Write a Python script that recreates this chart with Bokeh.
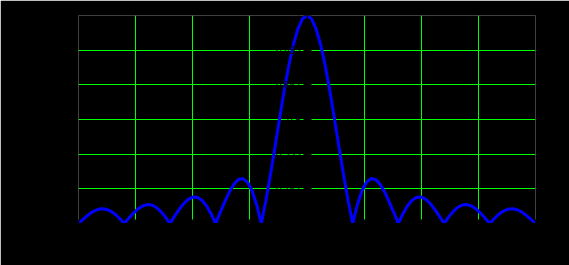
from bokeh.plotting import figure
from bokeh.models import Range1d, FixedTicker, Legend, LegendItem
from bokeh.embed import file_html
from bokeh.resources import INLINE

# data (|sinc| pattern)
x_vals = [-5.0, -4.9, -4.8, -4.7, -4.6, -4.5, -4.4, -4.3, -4.2, -4.1,
          -4.0, -3.9, -3.8, -3.7, -3.6, -3.5, -3.4, -3.3, -3.2, -3.1,
          -3.0, -2.9, -2.8, -2.7, -2.6, -2.5, -2.4, -2.3, -2.2, -2.1,
          -2.0, -1.9, -1.8, -1.7, -1.6, -1.5, -1.4, -1.3, -1.2, -1.1,
          -1.0, -0.9, -0.8, -0.7, -0.6, -0.5, -0.4, -0.3, -0.2, -0.1,
          0.0, 0.1, 0.2, 0.3, 0.4, 0.5, 0.6, 0.7, 0.8, 0.9,
          1.0, 1.1, 1.2, 1.3, 1.4, 1.5, 1.6, 1.7, 1.8, 1.9,
          2.0, 2.1, 2.2, 2.3, 2.4, 2.5, 2.6, 2.7, 2.8, 2.9,
          3.0, 3.1, 3.2, 3.3, 3.4, 3.5, 3.6, 3.7, 3.8, 3.9,
          4.0, 4.1, 4.2, 4.3, 4.4, 4.5, 4.6, 4.7, 4.8, 4.9, 5.0]
y_vals = [0.0, 0.020, 0.039, 0.055, 0.066, 0.071, 0.069, 0.060, 0.045, 0.024,
          0.0, 0.025, 0.049, 0.070, 0.084, 0.091, 0.089, 0.078, 0.058, 0.032,
          0.0, 0.034, 0.067, 0.095, 0.116, 0.127, 0.126, 0.112, 0.085, 0.047,
          0.0, 0.052, 0.104, 0.151, 0.189, 0.212, 0.216, 0.198, 0.156, 0.089,
          0.0, 0.109, 0.234, 0.368, 0.505, 0.637, 0.757, 0.858, 0.935, 0.984,
          1.0, 0.984, 0.935, 0.858, 0.757, 0.637, 0.505, 0.368, 0.234, 0.109,
          0.0, 0.089, 0.156, 0.198, 0.216, 0.212, 0.189, 0.151, 0.104, 0.052,
          0.0, 0.047, 0.085, 0.112, 0.126, 0.127, 0.116, 0.095, 0.067, 0.034,
          0.0, 0.032, 0.058, 0.078, 0.089, 0.091, 0.084, 0.070, 0.049, 0.025,
          0.0, 0.024, 0.045, 0.060, 0.069, 0.071, 0.066, 0.055, 0.039, 0.020, 0.0]
x_ticks = [-5.0, -3.75, -2.5, -1.25, 0.0, 1.25, 2.5, 3.75, 5.0]
y_ticks = [0.0, 0.167, 0.333, 0.5, 0.667, 0.833, 1.0]
series_name = "sinc(x)"

p = figure(width=569, height=265, output_backend="svg", toolbar_location=None,
           x_range=Range1d(-5, 5), y_range=Range1d(0, 1),
           min_border_left=78, min_border_right=34, min_border_top=15,
           min_border_bottom=42)
p.background_fill_color = "black"
p.border_fill_color = "black"
p.outline_line_color = None

for ax in (p.xaxis[0], p.yaxis[0]):
    ax.axis_line_color = "black"
    ax.major_tick_line_color = "black"
    ax.minor_tick_line_color = None
    ax.major_label_text_color = "black"
    ax.major_label_text_font_size = "10px"
    ax.major_tick_in = 4
    ax.major_tick_out = 4

p.xaxis.ticker = FixedTicker(ticks=x_ticks)
p.yaxis.ticker = FixedTicker(ticks=y_ticks)
p.yaxis.fixed_location = 0
p.yaxis.major_label_standoff = 2

p.xgrid.grid_line_color = "#00ff00"
p.ygrid.grid_line_color = "#00ff00"
p.xgrid.grid_line_width = 1
p.ygrid.grid_line_width = 1

r = p.line(x_vals, y_vals, line_color="#0000ff", line_width=3)

legend = Legend(items=[LegendItem(label=series_name, renderers=[r])],
                location=(-64, 80), margin=0, padding=0, spacing=0,
                glyph_width=27, glyph_height=20, label_standoff=5,
                label_text_color="black", label_text_font_size="10px",
                background_fill_color="black",
                background_fill_alpha=1.0, border_line_color=None)
p.add_layout(legend, "center")

open("out.html", "w").write(file_html(p, INLINE))
